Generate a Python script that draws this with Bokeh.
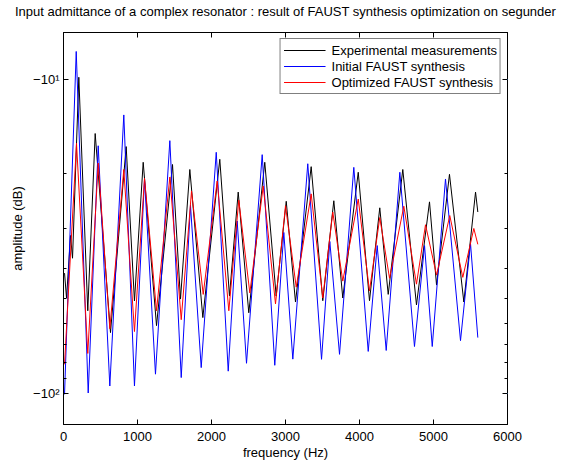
import numpy as np
from bokeh.plotting import figure
from bokeh.models import (LinearAxis, LogAxis, FixedTicker, Range1d, Legend,
                          LegendItem)
from bokeh.embed import file_html
from bokeh.resources import INLINE

# ---------------- data ----------------
exp_freq = [14, 41, 95, 122, 207, 328, 428, 635, 847, 959, 1077, 1257, 1473,
            1581, 1707, 1883, 2112, 2243, 2361, 2504, 2720, 2874, 3010, 3135,
            3347, 3504, 3653, 3774, 3983, 4135, 4274, 4388, 4585, 4770, 4946,
            5041, 5216, 5410, 5568, 5599]
exp_db = [-41.5, -49.8, -31.5, -37.2, -9.86, -54.7, -14.9, -64.2, -16.4, -50.9,
          -18.4, -61.0, -18.7, -50.2, -19.4, -57.5, -18.0, -49.1, -22.9, -55.5,
          -18.4, -49.1, -24.5, -51.3, -19.0, -50.8, -24.4, -49.8, -19.8, -50.8,
          -25.7, -48.5, -19.4, -52.4, -24.6, -45.3, -20.1, -51.3, -22.9, -26.5]

ini_freq = [14, 172, 334, 469, 626, 815, 959, 1095, 1243, 1437, 1591, 1716,
            1861, 2064, 2226, 2347, 2473, 2685, 2855, 2977, 3099, 3301, 3487,
            3599, 3730, 3923, 4118, 4239, 4361, 4545, 4743, 4879, 4983, 5162,
            5365, 5500, 5599]
ini_db = [-101.0, -8.16, -100.0, -16.3, -95.0, -13.0, -95.0, -20.8, -87.1,
          -15.7, -89.3, -25.2, -83.0, -17.1, -85.2, -28.3, -80.4, -17.4, -81.6,
          -30.8, -78.0, -18.6, -78.1, -32.9, -75.3, -19.1, -73.7, -33.9, -73.2,
          -19.8, -71.1, -33.9, -71.1, -20.8, -68.1, -33.4, -66.6]

opt_freq = [14, 176, 328, 469, 626, 815, 959, 1095, 1257, 1437, 1591, 1730,
            1888, 2077, 2234, 2369, 2518, 2699, 2865, 3000, 3145, 3347, 3504,
            3639, 3774, 3983, 4135, 4274, 4406, 4599, 4770, 4892, 5041, 5220,
            5396, 5545, 5599]
opt_db = [-81.0, -16.0, -74.8, -18.5, -62.4, -19.4, -63.7, -20.7, -54.7, -20.5,
          -58.4, -22.7, -48.5, -21.1, -54.7, -24.3, -48.0, -21.9, -52.0, -25.3,
          -46.0, -23.2, -49.8, -26.5, -44.0, -24.1, -47.3, -27.6, -43.1, -25.4,
          -45.0, -29.1, -42.1, -27.2, -42.8, -29.9, -33.6]

x_ticks = [0, 1000, 2000, 3000, 4000, 5000, 6000]
y_major = [10, 100]
y_minor = [20, 30, 40, 50, 60, 70, 80, 90]
y_labels = {10: "\u221210\u00b9", 100: "\u221210\u00b2"}

FONT = "Liberation Sans"
FS = "13px"

p = figure(width=561, height=462, y_axis_type="log",
           x_range=Range1d(0, 6000), y_range=Range1d(126, 7.1),
           output_backend="svg", toolbar_location=None,
           min_border_left=63, min_border_right=54,
           min_border_top=32, min_border_bottom=34)

p.title.text = ("Input admittance of a complex resonator : result of FAUST "
                "synthesis optimization on segunder")
p.title.align = "center"
p.title.text_font = FONT
p.title.text_font_size = FS
p.title.text_font_style = "normal"
p.title.text_color = "black"
p.title.standoff = 2

p.xgrid.visible = False
p.ygrid.visible = False
p.outline_line_color = "black"
p.outline_line_width = 1
p.background_fill_color = "white"
p.border_fill_color = "white"

def style_axis(ax, labels=True):
    ax.axis_line_color = "black"
    ax.major_tick_line_color = "black"
    ax.minor_tick_line_color = "black"
    ax.major_tick_in = 5
    ax.major_tick_out = 0
    ax.minor_tick_in = 3
    ax.minor_tick_out = 0
    ax.major_label_text_font = FONT
    ax.axis_label_text_font = FONT
    ax.axis_label_text_font_style = "normal"
    ax.axis_label_text_font_size = FS
    ax.axis_label_text_color = "black"
    if labels:
        ax.major_label_text_font_size = FS
        ax.major_label_text_color = "black"
        ax.major_label_standoff = 4
    else:
        ax.major_label_text_font_size = "1px"
        ax.major_label_text_color = "white"
        ax.major_label_standoff = 0

xt = FixedTicker(ticks=x_ticks, minor_ticks=[])
yt = FixedTicker(ticks=y_major, minor_ticks=y_minor)

p.xaxis.ticker = xt
p.xaxis.axis_label = "frequency (Hz)"
style_axis(p.xaxis[0])
p.xaxis.major_label_standoff = 7
p.xaxis.axis_label_standoff = 1

p.yaxis.ticker = yt
p.yaxis.axis_label = "amplitude (dB)"
p.yaxis.major_label_overrides = y_labels
style_axis(p.yaxis[0])
p.yaxis.axis_label_standoff = 5

top = LinearAxis(ticker=FixedTicker(ticks=x_ticks, minor_ticks=[]))
style_axis(top, labels=False)
top.major_label_standoff = 9
p.add_layout(top, "above")
right = LogAxis(ticker=FixedTicker(ticks=y_major, minor_ticks=y_minor))
style_axis(right, labels=False)
p.add_layout(right, "right")

r1 = p.line(exp_freq, -np.array(exp_db), line_color="black", line_width=1)
r2 = p.line(ini_freq, -np.array(ini_db), line_color="#0000ff", line_width=1)
r3 = p.line(opt_freq, -np.array(opt_db), line_color="#ff0000", line_width=1)

legend = Legend(items=[
    LegendItem(label="Experimental measurements", renderers=[r1]),
    LegendItem(label="Initial FAUST synthesis", renderers=[r2]),
    LegendItem(label="Optimized FAUST synthesis", renderers=[r3]),
], location="top_right")
legend.label_text_font = FONT
legend.label_text_font_size = FS
legend.label_text_color = "black"
legend.border_line_color = "black"
legend.border_line_width = 1
legend.background_fill_color = "white"
legend.background_fill_alpha = 1
legend.padding = 3
legend.spacing = 0
legend.margin = 6
legend.glyph_width = 42
legend.glyph_height = 16
legend.label_height = 16
legend.label_standoff = 6
p.add_layout(legend)

open("out.html", "w").write(file_html(p, INLINE))
